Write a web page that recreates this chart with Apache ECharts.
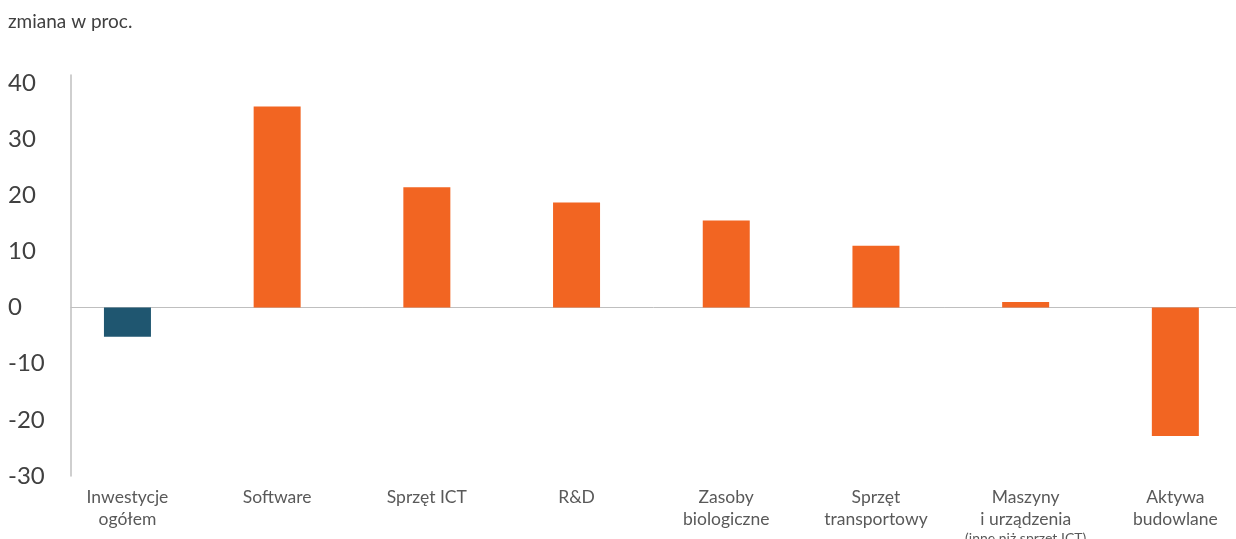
<!DOCTYPE html>
<html>
<head>
<meta charset="utf-8">
<script src="https://cdn.jsdelivr.net/npm/echarts@6/dist/echarts.min.js"></script>
<style>
  html, body { margin: 0; padding: 0; background: #fff; }
  #chart { width: 1236px; height: 539px; }
</style>
</head>
<body>
<div id="chart"></div>
<script>
// categories and values (change in percent)
var categories = [
	'Inwestycje\nogółem',
	'Software',
	'Sprzęt ICT',
	'R&D',
	'Zasoby\nbiologiczne',
	'Sprzęt\ntransportowy',
	'Maszyny\ni urządzenia\n{s|(inne niż sprzęt ICT)}',
	'Aktywa\nbudowlane'
];
var values = [-5.2, 35.8, 21.4, 18.7, 15.5, 11.0, 1.0, -22.9];
var barColors = ['#1f5670', '#f26522', '#f26522', '#f26522', '#f26522', '#f26522', '#f26522', '#f26522'];
var yMin = -30;
var yMax = 41.4;

var myChart = echarts.init(document.getElementById('chart'));

var seriesData = values.map(function (v, i) {
	return { value: v, itemStyle: { color: barColors[i] } };
});

var option = {
	backgroundColor: '#ffffff',
	animation: false,
	title: {
		text: 'zmiana w proc.',
		left: 8,
		top: 12,
		padding: 0,
		textStyle: {
			fontFamily: 'Lato',
			fontWeight: 'normal',
			fontSize: 19,
			color: '#404040'
		}
	},
	grid: [
		// grid 0 holds the y axis and the zero line
		{ left: 71, right: 0, top: 75, bottom: 63, outerBoundsMode: 'none' },
		// grid 1 holds the bars and category labels
		{ left: 52.6, width: 1197.6, top: 75, bottom: 63, outerBoundsMode: 'none' }
	],
	xAxis: [
		{
			type: 'value',
			gridIndex: 0,
			min: 0,
			max: 1,
			axisLabel: { show: false },
			axisTick: { show: false },
			splitLine: { show: false },
			axisLine: { show: true, onZero: true, lineStyle: { color: '#bfbfbf', width: 1 } }
		},
		{
			type: 'category',
			gridIndex: 1,
			data: categories,
			axisLine: { show: false },
			axisTick: { show: false },
			axisLabel: {
				interval: 0,
				margin: 10,
				fontFamily: 'Lato',
				fontSize: 17.5,
				lineHeight: 22,
				color: '#595959',
				rich: {
					s: { fontFamily: 'Lato', fontSize: 14, lineHeight: 17, color: '#595959' }
				}
			}
		}
	],
	yAxis: [
		{
			type: 'value',
			gridIndex: 0,
			min: yMin,
			max: yMax,
			interval: 10,
			splitLine: { show: false },
			axisTick: { show: false },
			axisLine: { show: true, lineStyle: { color: '#bfbfbf', width: 1.5 } },
			axisLabel: {
				showMaxLabel: false,
				align: 'left',
				margin: 63,
				fontFamily: 'Lato',
				fontSize: 24,
				color: '#404040'
			}
		},
		{
			type: 'value',
			gridIndex: 1,
			min: yMin,
			max: yMax,
			show: false
		}
	],
	series: [
		{
			type: 'bar',
			xAxisIndex: 1,
			yAxisIndex: 1,
			barWidth: 47,
			data: seriesData
		}
	]
};

myChart.setOption(option);
</script>
</body>
</html>
